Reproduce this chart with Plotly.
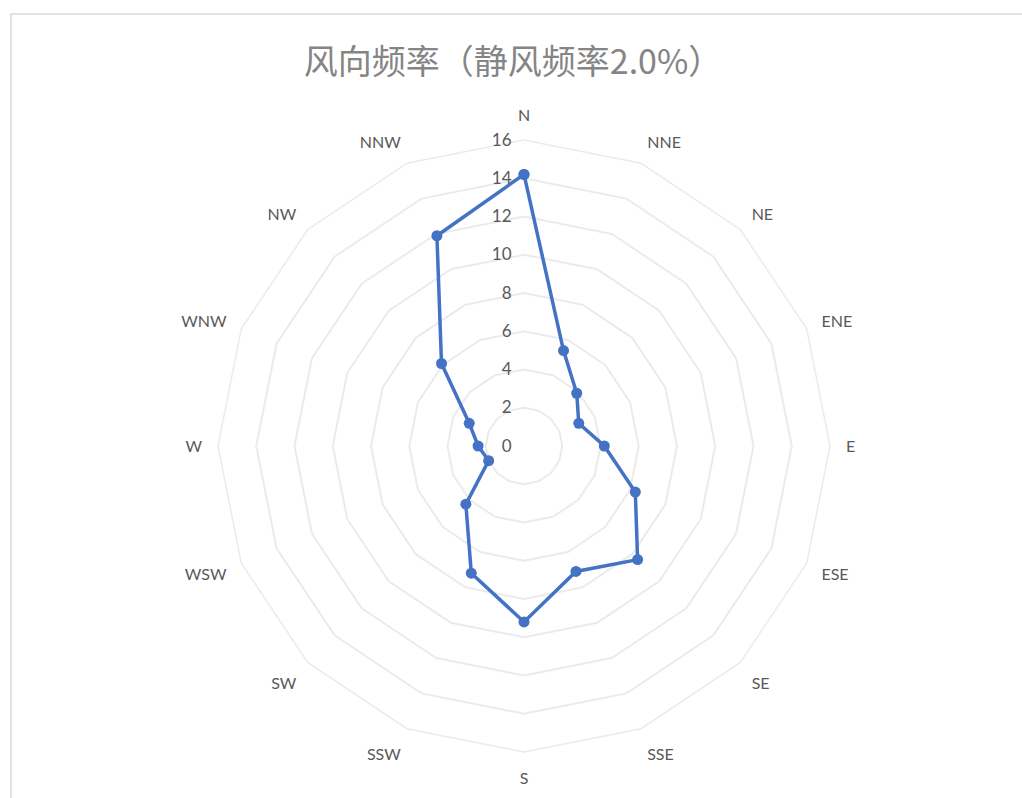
import plotly.graph_objects as go

directions = ["N", "NNE", "NE", "ENE", "E", "ESE", "SE", "SSE",
              "S", "SSW", "SW", "WSW", "W", "WNW", "NW", "NNW"]
frequency = [14.2, 5.4, 3.9, 3.1, 4.2, 6.3, 8.4, 7.1,
             9.2, 7.2, 4.3, 2.0, 2.4, 3.1, 6.1, 11.9]
radial_ticks = [0, 2, 4, 6, 8, 10, 12, 14, 16]
title_text = "风向频率（静风频率2.0%）"

line_color = "#4472C4"
grid_color = "#ebebeb"
text_color = "#595959"

fig = go.Figure()
fig.add_trace(go.Scatterpolar(
    r=frequency + [frequency[0]],
    theta=directions + [directions[0]],
    mode="lines+markers",
    line=dict(color=line_color, width=3.5),
    marker=dict(color=line_color, size=11),
    showlegend=False,
))

cx, cy, R = 524, 446, 306
W, H = 1022, 798
fig.update_layout(
    width=W, height=H,
    margin=dict(l=0, r=0, t=0, b=0),
    paper_bgcolor="white",
    plot_bgcolor="white",
    title=dict(text=title_text, x=0.502, xanchor="center", y=1 - 62 / H, yanchor="middle",
               font=dict(family="Noto Sans CJK SC", size=34, color="#858585")),
    polar=dict(
        domain=dict(x=[(cx - R) / W, (cx + R) / W], y=[(H - cy - R) / H, (H - cy + R) / H]),
        bgcolor="white",
        gridshape="linear",
        radialaxis=dict(
            range=[0, 16], tickvals=radial_ticks, angle=90, side="counterclockwise",
            tickangle=90,
            showline=False, ticks="outside", ticklen=6, tickcolor="rgba(0,0,0,0)",
            gridcolor=grid_color, gridwidth=1.5,
            tickfont=dict(family="Lato", size=17, color=text_color),
        ),
        angularaxis=dict(
            categoryorder="array", categoryarray=directions,
            rotation=90, direction="clockwise",
            showgrid=False, showline=True, linecolor=grid_color, linewidth=1.5,
            ticks="outside", ticklen=12, tickcolor="rgba(0,0,0,0)",
            tickfont=dict(family="Lato", size=16, color=text_color),
        ),
    ),
    shapes=[dict(type="rect", xref="paper", yref="paper",
                 x0=11 / W, x1=1.02, y0=-0.02, y1=1 - 14 / H,
                 line=dict(color="#d9d9d9", width=1.5))],
)

fig.write_html("out.html")
